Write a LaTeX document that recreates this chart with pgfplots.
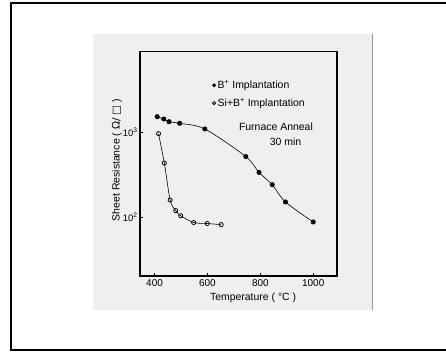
\documentclass[border=0pt]{standalone}
\usepackage{pgfplots}
\pgfplotsset{compat=1.18}
\usepackage{fontspec}
\setmainfont{Liberation Sans}
\newfontfamily\symfont{DejaVu Sans}
\definecolor{scangray}{HTML}{EFEFEF}
\definecolor{edgegray}{HTML}{999999}
\pgfplotsset{markonly legend/.style={legend image code/.code={\draw[##1, only marks, mark size=#1] plot coordinates {(0.15cm,0cm)};}}}
\begin{document}
\begin{tikzpicture}[x=1bp,y=1bp]
\useasboundingbox (0,0) rectangle (446,351);
% scanned region background
\fill[scangray] (93,41) rectangle (372,317);
\draw[edgegray, line width=0.8bp] (372,41) -- (372,317);
% outer frame (top, left, bottom)
\draw[black, line width=2bp] (446,348) -- (11,348) -- (11,1) -- (446,1);
\begin{axis}[
  at={(140bp,75bp)}, anchor=south west,
  scale only axis, width=197bp, height=224.5bp,
  xmin=345, xmax=1090,
  ymode=log, ymin=20, ymax=9000,
  xtick={400,600,800,1000},
  ytick={100,1000},
  yticklabels={10\textsuperscript{2},10\textsuperscript{3}},
  minor tick length=0pt,
  tick align=inside, major tick length=3bp,
  xtick pos=left, ytick pos=left,
  axis line style={line width=1.1bp},
  every tick/.style={black, line width=0.6bp},
  /pgf/number format/assume math mode=true,
  /pgf/number format/1000 sep={},
  xticklabel style={font=\fontsize{10}{12}\selectfont},
  yticklabel style={font=\fontsize{9.5}{11}\selectfont, xshift=1bp},
  label style={font=\fontsize{10.5}{12}\selectfont},
  xlabel={Temperature ( °C )},
  ylabel={Sheet Resistance ( {\symfont Ω/ □} )},
  xlabel style={at={(axis description cs:0.574,-0.097)}, anchor=center},
  ylabel style={at={(axis description cs:-0.117,0.517)}, anchor=center, rotate=0},
  legend style={draw=none, fill=none, at={(axis description cs:0.362,0.885)}, anchor=north west,
    font=\fontsize{10.5}{12}\selectfont, row sep=4bp, inner sep=1bp},
  legend cell align=left,
  axis background/.style={fill=scangray},
]
\addplot[black, line width=0.6bp, smooth, tension=0.5, mark=*, mark size=2.2pt, markonly legend=1.6pt]
  coordinates {(410,1527) (435,1433) (455,1332) (495,1276) (590,1094) (745,516) (795,335) (845,240) (895,150) (1000,87)};
\addlegendentry{B\textsuperscript{+} Implantation}
\addplot[black, line width=0.6bp, smooth, tension=0.5, mark=o, mark size=2.1pt, mark options={line width=0.75bp, fill=scangray}, markonly legend=1.6pt]
  coordinates {(415,963) (437,432) (459,158) (480,118.6) (499,103) (548,85.7) (599,83.4) (652,81)};
\addlegendentry{Si+B\textsuperscript{+} Implantation}
\node[font=\fontsize{10.5}{12}\selectfont] at (axis description cs:0.69,0.664) {Furnace Anneal};
\node[font=\fontsize{10.5}{12}\selectfont] at (axis description cs:0.739,0.597) {30 min};
\end{axis}
\end{tikzpicture}
\end{document}
